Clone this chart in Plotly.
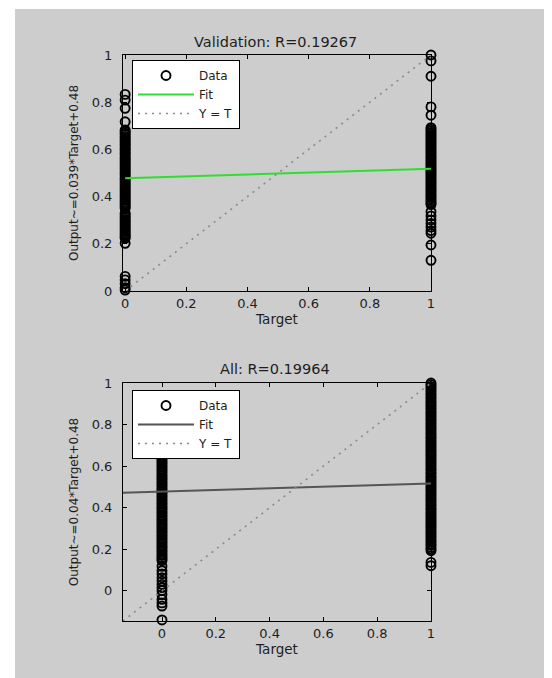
import plotly.graph_objects as go

# ---------------- data ----------------
# Validation subplot (Target 0 / Target 1 outputs)
val_t0_out = [0.833, 0.809, 0.774, 0.717,
              0.682, 0.676, 0.669, 0.663, 0.655, 0.649, 0.641, 0.636, 0.628, 0.621,
              0.615, 0.607, 0.601, 0.594, 0.586, 0.580, 0.573, 0.565, 0.559, 0.552,
              0.544, 0.538, 0.531, 0.523, 0.517, 0.510, 0.502, 0.496, 0.489, 0.481,
              0.475, 0.468, 0.461, 0.454, 0.447, 0.440, 0.433, 0.426, 0.419, 0.412,
              0.405, 0.398, 0.391, 0.384, 0.377, 0.370, 0.363, 0.357, 0.351,
              0.331, 0.324, 0.317, 0.310, 0.303, 0.296, 0.289, 0.282, 0.275, 0.268,
              0.261, 0.254, 0.247, 0.240, 0.234, 0.228, 0.223,
              0.202, 0.062, 0.047, 0.031, 0.014, 0.004]
val_t1_out = [1.0, 0.975, 0.91, 0.78, 0.745,
              0.692, 0.685, 0.678, 0.671, 0.664, 0.657, 0.650, 0.643, 0.636, 0.629,
              0.622, 0.615, 0.608, 0.601, 0.594, 0.587, 0.580, 0.573, 0.566, 0.559,
              0.552, 0.545, 0.538, 0.531, 0.524, 0.517, 0.510, 0.503, 0.496, 0.489,
              0.482, 0.475, 0.468, 0.461, 0.454, 0.447, 0.440, 0.433, 0.426, 0.419,
              0.412, 0.405, 0.398, 0.391, 0.384, 0.377, 0.371, 0.366,
              0.336, 0.318, 0.301, 0.286, 0.271, 0.256, 0.245, 0.195, 0.13]
val_fit_x = [0.0, 1.0]
val_fit_y = [0.478, 0.518]

# All subplot
all_t0_out = [0.832, 0.823, 0.812, 0.803, 0.795, 0.784, 0.776, 0.766, 0.758, 0.747,
              0.739, 0.731, 0.721, 0.714, 0.704, 0.697, 0.688, 0.678, 0.671, 0.661,
              0.654, 0.645, 0.636, 0.628, 0.619, 0.612, 0.602, 0.595, 0.585, 0.578,
              0.569, 0.559, 0.552, 0.543, 0.536, 0.526, 0.518, 0.509, 0.502, 0.492,
              0.485, 0.475, 0.468, 0.458, 0.451, 0.441, 0.433, 0.424, 0.417, 0.407,
              0.399, 0.391, 0.381, 0.374, 0.364, 0.357, 0.347, 0.340, 0.331, 0.322,
              0.315, 0.305, 0.298, 0.288, 0.281, 0.271, 0.264, 0.254, 0.247, 0.237,
              0.230, 0.221, 0.212, 0.205, 0.195, 0.188, 0.178, 0.170, 0.161, 0.153,
              0.145,
              0.118, 0.097, 0.081, 0.063, 0.047, 0.031, 0.016, 0.002, -0.018,
              -0.041, -0.058, -0.073, -0.140]
all_t1_out = [1.0, 0.992, 0.983, 0.975, 0.966, 0.958, 0.948, 0.941, 0.931, 0.924,
              0.914, 0.906, 0.897, 0.889, 0.880, 0.872, 0.862, 0.855, 0.845, 0.838,
              0.828, 0.821, 0.811, 0.803, 0.794, 0.786, 0.777, 0.769, 0.759, 0.752,
              0.742, 0.735, 0.725, 0.717, 0.708, 0.700, 0.691, 0.683, 0.673, 0.666,
              0.656, 0.649, 0.639, 0.631, 0.622, 0.614, 0.605, 0.597, 0.587, 0.580,
              0.570, 0.563, 0.553, 0.545, 0.536, 0.528, 0.519, 0.511, 0.501, 0.494,
              0.484, 0.477, 0.467, 0.459, 0.450, 0.442, 0.433, 0.425, 0.415, 0.408,
              0.398, 0.391, 0.381, 0.373, 0.364, 0.356, 0.347, 0.339, 0.329, 0.322,
              0.312, 0.305, 0.295, 0.287, 0.278, 0.270, 0.261, 0.253, 0.243, 0.236,
              0.226, 0.219, 0.209, 0.201, 0.193, 0.137, 0.121]
all_fit_x = [-0.145, 1.0]
all_fit_y = [0.472, 0.516]

yt_x = [-0.145, 1.0]   # Y = T line extents for the All plot
val_yt = [0.0, 1.0]

tick_vals = [0, 0.2, 0.4, 0.6, 0.8, 1]
tick_text = ["0", "0.2", "0.4", "0.6", "0.8", "1"]

titles = ["Validation: R=0.19267", "All: R=0.19964"]
ylabels = ["Output~=0.039*Target+0.48", "Output~=0.04*Target+0.48"]
xlabel = "Target"

# ---------------- figure ----------------
W, H = 552, 678
OFF = 8  # page body margin: the figure's paper starts 8px into the window
FONT = "DejaVu Sans, Verdana, sans-serif"
TXT = "#1e1e1e"

fig = go.Figure()

def add_panel(t0, t1, fit_x, fit_y, fit_color, yt, xa, ya, leg):
    fig.add_trace(go.Scatter(
        x=[0] * len(t0) + [1] * len(t1), y=t0 + t1, mode="markers", name="Data",
        marker=dict(symbol="circle-open", size=9, color="black", line=dict(width=1.9)),
        xaxis=xa, yaxis=ya, legend=leg, cliponaxis=False))
    fig.add_trace(go.Scatter(
        x=fit_x, y=fit_y, mode="lines", name="Fit",
        line=dict(color=fit_color, width=2), xaxis=xa, yaxis=ya, legend=leg))
    fig.add_trace(go.Scatter(
        x=yt, y=yt, mode="lines", name="Y = T",
        line=dict(color="#8a8a8a", width=1.6, dash="2px,5px"), xaxis=xa, yaxis=ya, legend=leg))

add_panel(val_t0_out, val_t1_out, val_fit_x, val_fit_y, "#2ee02e", val_yt, "x", "y", "legend")
add_panel(all_t0_out, all_t1_out, all_fit_x, all_fit_y, "#555555", yt_x, "x2", "y2", "legend2")

def px_x(p):
    return (p - OFF) / W

def px_y(p):
    return 1 - (p - OFF) / H

axis_common = dict(
    showline=True, linecolor="black", linewidth=1, mirror="allticks",
    ticks="inside", ticklen=4, tickcolor="black", showgrid=False, zeroline=False,
    tickvals=tick_vals, ticktext=tick_text, automargin=False,
    tickfont=dict(family=FONT, size=13, color=TXT),
)

xdom = [px_x(123), px_x(431)]
leg_common = dict(xanchor="left", yanchor="top",
                  bgcolor="white", bordercolor="black", borderwidth=1,
                  font=dict(family=FONT, size=12, color=TXT), itemwidth=56,
                  tracegroupgap=0)
fig.update_layout(
    width=W, height=H,
    margin=dict(l=0, r=0, t=0, b=0),
    paper_bgcolor="white", plot_bgcolor="white",
    template="none",
    font=dict(family=FONT, size=12, color=TXT),
    xaxis=dict(domain=xdom, range=[-0.007, 1], anchor="y",
               title=dict(text=xlabel, font=dict(size=13.5, family=FONT, color=TXT), standoff=3),
               **axis_common),
    yaxis=dict(domain=[px_y(291), px_y(55)], range=[0, 1], anchor="x",
               title=dict(text=ylabels[0], font=dict(size=12, family=FONT, color=TXT), standoff=10),
               ticklabelstandoff=7, **axis_common),
    xaxis2=dict(domain=xdom, range=[-0.145, 1], anchor="y2",
                title=dict(text=xlabel, font=dict(size=13.5, family=FONT, color=TXT), standoff=3),
                **axis_common),
    yaxis2=dict(domain=[px_y(621), px_y(383)], range=[-0.145, 1], anchor="x2",
                title=dict(text=ylabels[1], font=dict(size=12, family=FONT, color=TXT), standoff=10),
                ticklabelstandoff=7, **axis_common),
    legend=dict(x=px_x(132), y=px_y(60), **leg_common),
    legend2=dict(x=px_x(132), y=px_y(390), **leg_common),
    shapes=[dict(type="rect", xref="paper", yref="paper", x0=px_x(15), x1=1,
                 y0=0, y1=px_y(9), fillcolor="#cdcdcd", line=dict(width=0), layer="below")],
    annotations=[
        dict(text=titles[0], x=px_x(275), y=px_y(42), xref="paper", yref="paper",
             xanchor="center", yanchor="middle",
             showarrow=False, font=dict(family=FONT, size=14.5, color=TXT)),
        dict(text=titles[1], x=px_x(275), y=px_y(369), xref="paper", yref="paper",
             xanchor="center", yanchor="middle",
             showarrow=False, font=dict(family=FONT, size=14.5, color=TXT)),
    ],
)

fig.write_html("out.html")
